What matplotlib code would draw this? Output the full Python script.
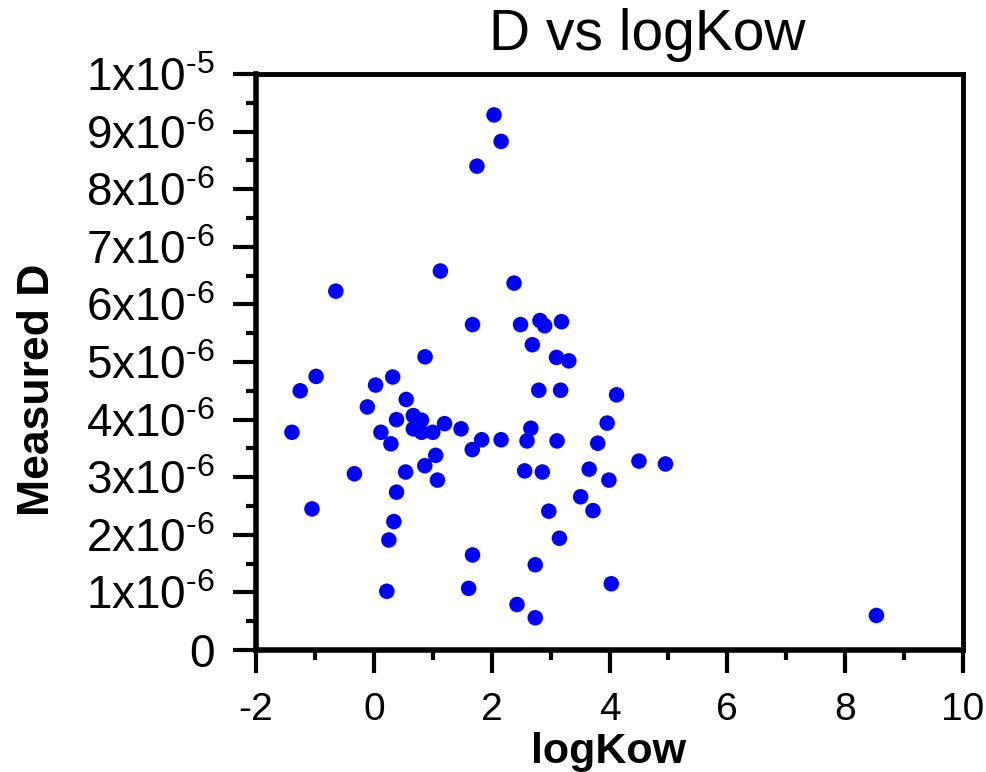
import matplotlib
matplotlib.use("Agg")
import matplotlib.pyplot as plt
from matplotlib.ticker import FixedLocator, MultipleLocator

plt.rcParams['font.family'] = ['Liberation Sans', 'DejaVu Sans']
plt.rcParams['mathtext.fontset'] = 'custom'
plt.rcParams['mathtext.rm'] = 'Liberation Sans'

# Data (logKow, Measured D)
logKow = [1.13, -0.645, 2.38, 1.675, 2.49, 0.87, -0.98, -1.25, 0.32, 0.03,
          0.55, -0.11, 0.385, 0.67, 0.81, 0.67, 0.81, 1.00, 1.20, 1.48,
          -1.39, 0.12, 0.29, 1.83, 1.67, 2.16, 1.05, 0.865, 0.54, -0.33,
          1.08, 0.385, -1.05, 0.34, 0.255, 1.675, 0.22, 1.61, 2.43, 2.82,
          2.90, 3.185, 2.69, 3.10, 3.31, 2.80, 3.17, 4.12, 2.665, 2.60,
          3.11, 3.96, 3.80, 4.50, 4.95, 2.56, 2.86, 3.655, 3.99, 3.51,
          3.72, 2.97, 3.15, 2.74, 4.03, 2.74, 2.04, 2.16, 1.75, 8.53]
measured_D = [6.58e-6, 6.23e-6, 6.37e-6, 5.65e-6, 5.65e-6, 5.09e-6, 4.75e-6, 4.50e-6, 4.74e-6, 4.60e-6,
              4.35e-6, 4.22e-6, 4.00e-6, 4.07e-6, 3.99e-6, 3.84e-6, 3.78e-6, 3.78e-6, 3.93e-6, 3.84e-6,
              3.78e-6, 3.78e-6, 3.58e-6, 3.65e-6, 3.48e-6, 3.65e-6, 3.38e-6, 3.20e-6, 3.09e-6, 3.06e-6,
              2.95e-6, 2.74e-6, 2.45e-6, 2.23e-6, 1.91e-6, 1.65e-6, 1.02e-6, 1.07e-6, 0.79e-6, 5.72e-6,
              5.63e-6, 5.70e-6, 5.30e-6, 5.08e-6, 5.02e-6, 4.51e-6, 4.51e-6, 4.43e-6, 3.85e-6, 3.63e-6,
              3.63e-6, 3.94e-6, 3.59e-6, 3.28e-6, 3.23e-6, 3.11e-6, 3.09e-6, 3.14e-6, 2.95e-6, 2.66e-6,
              2.42e-6, 2.41e-6, 1.94e-6, 1.48e-6, 1.15e-6, 0.56e-6, 9.29e-6, 8.83e-6, 8.40e-6, 0.60e-6]

x_ticks = [-2, 0, 2, 4, 6, 8, 10]
y_ticks = [0, 1e-6, 2e-6, 3e-6, 4e-6, 5e-6, 6e-6, 7e-6, 8e-6, 9e-6, 1e-5]
y_tick_labels = (['0'] + ['$\\mathregular{%dx10^{\u20106}}$' % i for i in range(1, 10)]
                 + ['$\\mathregular{1x10^{\u20105}}$'])

fig = plt.figure(figsize=(9.86, 7.72), dpi=100)
ax = fig.add_axes([256/986, 1 - 650/772, (963-256)/986, (650-74)/772])

ax.scatter(logKow, measured_D, s=125, color='#0000FF', edgecolors='none', zorder=3)

ax.set_xlim(-2, 10)
ax.set_ylim(0, 1e-5)
ax.xaxis.set_major_locator(FixedLocator(x_ticks))
ax.xaxis.set_minor_locator(MultipleLocator(1))
ax.yaxis.set_major_locator(FixedLocator(y_ticks))
ax.yaxis.set_minor_locator(MultipleLocator(0.5e-6))
ax.set_xticklabels([str(t) for t in x_ticks])
ax.set_yticklabels(y_tick_labels)

for side in ['left', 'bottom']:
    ax.spines[side].set_linewidth(4)
for side in ['top', 'right']:
    ax.spines[side].set_linewidth(3.5)

ax.tick_params(axis='both', which='major', direction='out', length=16.5, width=3, top=False, right=False)
ax.tick_params(axis='both', which='minor', direction='out', length=7.5, width=3, top=False, right=False)
ax.tick_params(axis='x', which='major', labelsize=28, pad=14)
ax.tick_params(axis='y', which='major', labelsize=33, pad=13)

fig.text(647/986, 1 - 50/772, 'D vs logKow', fontsize=41, ha='center', va='baseline')
fig.text(38/986, 1 - 390/772, 'Measured D', fontsize=32, fontweight='bold',
         rotation=90, ha='center', va='center')
fig.text(609/986, 1 - 752/772, 'logKow', fontsize=31, fontweight='bold',
         ha='center', va='center')

fig.savefig('out.png', dpi=100)
